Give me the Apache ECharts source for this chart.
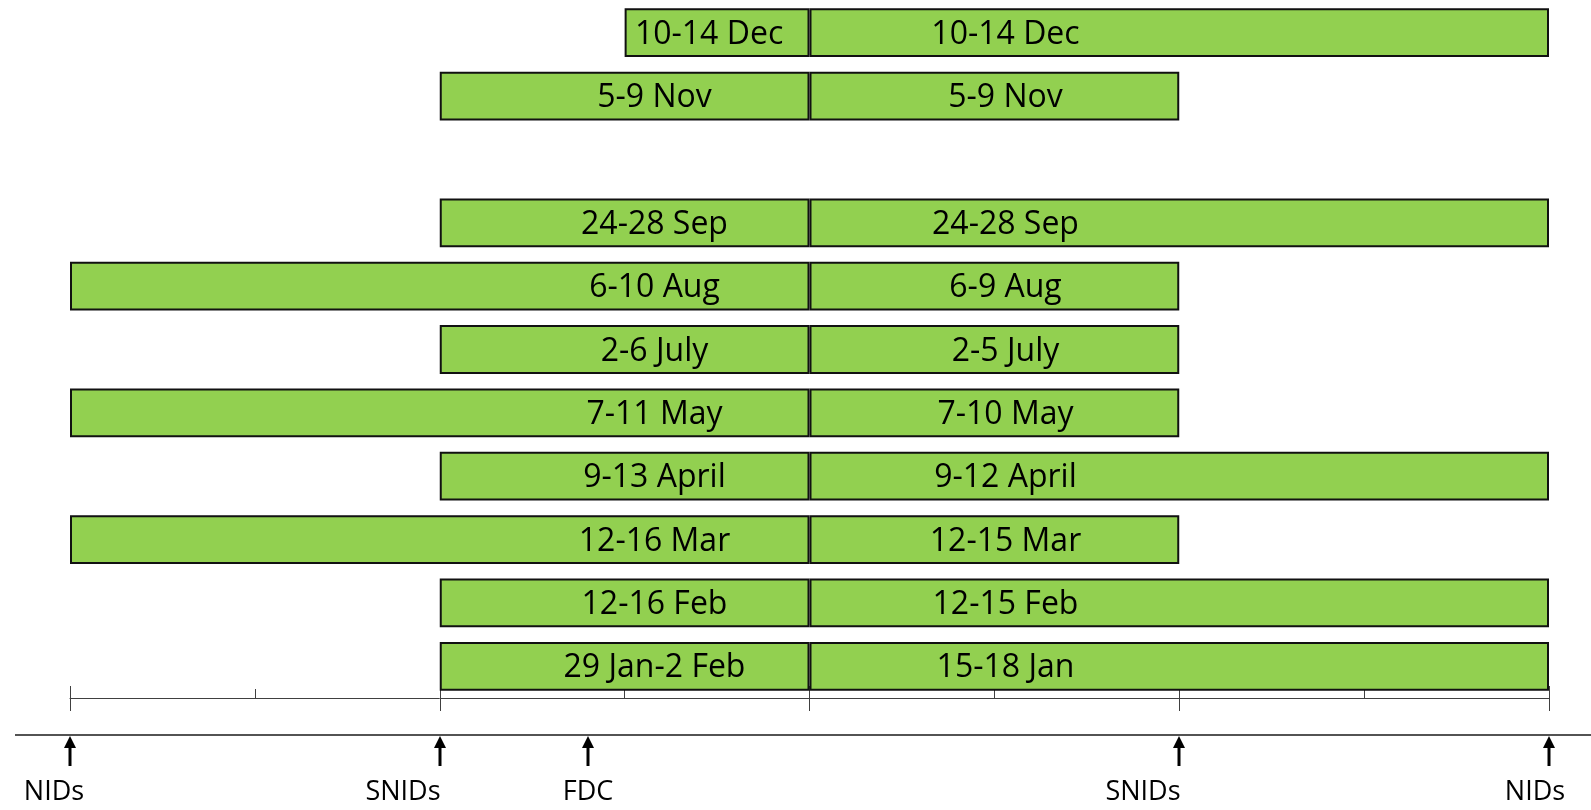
<!DOCTYPE html>
<html>
<head>
<meta charset="utf-8">
<script src="https://cdn.jsdelivr.net/npm/echarts@6/dist/echarts.min.js"></script>
<style>
  html, body { margin: 0; padding: 0; background: #fff; }
  #chart { width: 1591px; height: 810px; }
</style>
</head>
<body>
<div id="chart"></div>
<script>
// rows from bottom to top, Oct has no bars
var months = ["Jan", "Feb", "Mar", "Apr", "May", "Jul", "Aug", "Sep", "Oct", "Nov", "Dec"];
var leftValues = [-2, -2, -4, -2, -4, -2, -4, -2, null, -2, -1];
var rightValues = [4, 4, 2, 4, 2, 2, 2, 4, null, 2, 4];
var leftLabels = ["29 Jan-2 Feb", "12-16 Feb", "12-16 Mar", "9-13 April", "7-11 May", "2-6 July", "6-10 Aug", "24-28 Sep", "", "5-9 Nov", "10-14 Dec"];
var rightLabels = ["15-18 Jan", "12-15 Feb", "12-15 Mar", "9-12 April", "7-10 May", "2-5 July", "6-9 Aug", "24-28 Sep", "", "5-9 Nov", "10-14 Dec"];

// timeline markers under the axis
var markerValues = [-4, -2, -1.2, 2, 4];
var markerNames = ["NIDs", "SNIDs", "FDC", "SNIDs", "NIDs"];
var markerTextShift = [-16, -37, 0, -36, -14];

var FONT = '"Open Sans", "Liberation Sans", sans-serif';

var chart = echarts.init(document.getElementById("chart"));

// short left bars get their label centred, others sit near the middle
var leftData = leftValues.map(function (v) {
  if (v !== null && v > -2) {
    return { value: v, label: { position: "inside", distance: 0, offset: [-8, 2] } };
  }
  return v;
});

var option = {
  animation: false,
  grid: [
    { left: 70, right: 42, top: 1, bottom: 112 },
    { left: 70, right: 42, top: 735, height: 31 }
  ],
  xAxis: [
    {
      gridIndex: 0,
      type: "value",
      min: -4,
      max: 4,
      interval: 2,
      axisLine: { show: true, lineStyle: { color: "#404040", width: 1 } },
      axisTick: { show: true, inside: true, length: 12, lineStyle: { color: "#404040" } },
      minorTick: { show: true, splitNumber: 2, length: 9, lineStyle: { color: "#404040" } },
      axisLabel: { show: false },
      splitLine: { show: false }
    },
    {
      gridIndex: 0,
      type: "value",
      position: "bottom",
      min: -4,
      max: 4,
      interval: 2,
      axisLine: { show: false },
      axisTick: { show: true, inside: false, length: 13, lineStyle: { color: "#404040" } },
      axisLabel: { show: false },
      splitLine: { show: false }
    },
    {
      gridIndex: 1,
      type: "value",
      min: -4,
      max: 4,
      show: false
    }
  ],
  yAxis: [
    {
      gridIndex: 0,
      type: "category",
      data: months,
      show: false
    },
    {
      gridIndex: 1,
      type: "value",
      min: 0,
      max: 1,
      show: false
    }
  ],
  graphic: [
    {
      type: "line",
      shape: { x1: 15, y1: 735, x2: 1591, y2: 735 },
      style: { stroke: "#1a1a1a", lineWidth: 1.5 }
    }
  ],
  series: [
    {
      type: "bar",
      xAxisIndex: 0,
      yAxisIndex: 0,
      data: leftData,
      barGap: "-100%",
      barCategoryGap: "23%",
      itemStyle: { color: "#92d050", borderColor: "#111", borderWidth: 2 },
      label: {
        show: true,
        position: "insideRight",
        distance: 155,
        align: "center",
        offset: [0, 2],
        color: "#000",
        fontSize: 32,
        fontFamily: FONT,
        formatter: function (p) { return leftLabels[p.dataIndex]; }
      }
    },
    {
      type: "bar",
      xAxisIndex: 0,
      yAxisIndex: 0,
      data: rightValues,
      barGap: "-100%",
      barCategoryGap: "23%",
      itemStyle: { color: "#92d050", borderColor: "#111", borderWidth: 2 },
      label: {
        show: true,
        position: "insideLeft",
        distance: 196,
        align: "center",
        offset: [0, 2],
        color: "#000",
        fontSize: 32,
        fontFamily: FONT,
        formatter: function (p) { return rightLabels[p.dataIndex]; }
      }
    },
    {
      type: "custom",
      xAxisIndex: 2,
      yAxisIndex: 1,
      clip: false,
      data: markerValues.map(function (v) { return [v]; }),
      renderItem: function (params, api) {
        var i = params.dataIndex;
        var top = api.coord([api.value(0), 1]);
        var bottom = api.coord([api.value(0), 0]);
        var x = Math.round(top[0]);
        return {
          type: "group",
          children: [
            {
              type: "line",
              shape: { x1: x, y1: top[1] + 8, x2: x, y2: bottom[1] },
              style: { stroke: "#000", lineWidth: 3 }
            },
            {
              type: "polygon",
              shape: { points: [[x, top[1] + 1], [x - 6, top[1] + 13], [x + 6, top[1] + 13]] },
              style: { fill: "#000" }
            },
            {
              type: "text",
              style: {
                text: markerNames[i],
                x: x + markerTextShift[i],
                y: bottom[1] + 26,
                align: "center",
                verticalAlign: "middle",
                fontSize: 27,
                fontFamily: FONT,
                fill: "#000"
              }
            }
          ]
        };
      }
    }
  ]
};

chart.setOption(option);
</script>
</body>
</html>
